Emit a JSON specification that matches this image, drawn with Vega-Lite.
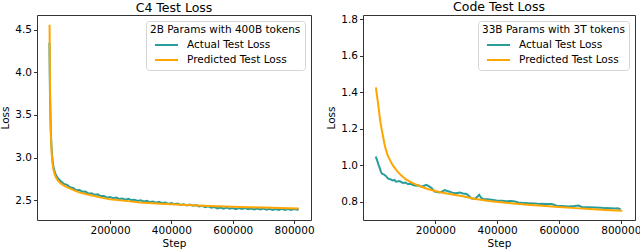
{
  "$schema": "https://vega.github.io/schema/vega-lite/v6.json",
  "padding": {"left": 0, "top": 0, "right": 0, "bottom": 0},
  "config": {
    "font": "DejaVu Sans",
    "view": {"stroke": "#333333", "strokeWidth": 1},
    "axis": {"domain": false, "grid": false, "ticks": true, "tickColor": "#333333", "tickSize": 3.5, "tickWidth": 1, "labelFontSize": 10.5, "labelColor": "#000000", "titleFontSize": 10.5, "titleFontWeight": "normal", "titleColor": "#000000", "labelPadding": 2, "labelFlush": false},
    "title": {"fontSize": 12.5, "fontWeight": "normal", "color": "#000000", "offset": 1},
    "legend": {
      "symbolType": "M-2.1,0H2.1",
      "symbolSize": 121,
      "symbolStrokeWidth": 2,
      "labelFontSize": 10.5,
      "titleFontSize": 10.5,
      "titleFontWeight": "normal",
      "titleColor": "#000000",
      "labelColor": "#000000",
      "padding": 4,
      "strokeColor": "#d5d5d5",
      "fillColor": "rgba(255,255,255,0.85)",
      "cornerRadius": 3,
      "rowPadding": 3,
      "titlePadding": 3,
      "symbolOffset": 10,
      "labelOffset": 14
    },
    "concat": {"spacing": 11}
  },
  "datasets": {
    "c4": [
      {"series": "Actual Test Loss", "step": 2500, "loss": 4.35},
      {"series": "Actual Test Loss", "step": 3000, "loss": 4.15},
      {"series": "Actual Test Loss", "step": 3500, "loss": 3.97},
      {"series": "Actual Test Loss", "step": 4000, "loss": 3.82},
      {"series": "Actual Test Loss", "step": 5000, "loss": 3.62},
      {"series": "Actual Test Loss", "step": 6000, "loss": 3.46},
      {"series": "Actual Test Loss", "step": 7000, "loss": 3.33},
      {"series": "Actual Test Loss", "step": 8000, "loss": 3.23},
      {"series": "Actual Test Loss", "step": 9500, "loss": 3.11},
      {"series": "Actual Test Loss", "step": 11000, "loss": 3.03},
      {"series": "Actual Test Loss", "step": 13000, "loss": 2.955},
      {"series": "Actual Test Loss", "step": 15500, "loss": 2.895},
      {"series": "Actual Test Loss", "step": 19000, "loss": 2.84},
      {"series": "Actual Test Loss", "step": 23000, "loss": 2.8},
      {"series": "Actual Test Loss", "step": 28000, "loss": 2.765},
      {"series": "Actual Test Loss", "step": 34000, "loss": 2.74},
      {"series": "Actual Test Loss", "step": 40000, "loss": 2.721},
      {"series": "Actual Test Loss", "step": 50000, "loss": 2.688},
      {"series": "Actual Test Loss", "step": 60000, "loss": 2.678},
      {"series": "Actual Test Loss", "step": 70000, "loss": 2.649},
      {"series": "Actual Test Loss", "step": 80000, "loss": 2.641},
      {"series": "Actual Test Loss", "step": 90000, "loss": 2.615},
      {"series": "Actual Test Loss", "step": 100000, "loss": 2.617},
      {"series": "Actual Test Loss", "step": 110000, "loss": 2.598},
      {"series": "Actual Test Loss", "step": 120000, "loss": 2.599},
      {"series": "Actual Test Loss", "step": 130000, "loss": 2.575},
      {"series": "Actual Test Loss", "step": 140000, "loss": 2.578},
      {"series": "Actual Test Loss", "step": 150000, "loss": 2.561},
      {"series": "Actual Test Loss", "step": 160000, "loss": 2.566},
      {"series": "Actual Test Loss", "step": 170000, "loss": 2.546},
      {"series": "Actual Test Loss", "step": 180000, "loss": 2.547},
      {"series": "Actual Test Loss", "step": 190000, "loss": 2.527},
      {"series": "Actual Test Loss", "step": 200000, "loss": 2.535},
      {"series": "Actual Test Loss", "step": 210000, "loss": 2.522},
      {"series": "Actual Test Loss", "step": 220000, "loss": 2.529},
      {"series": "Actual Test Loss", "step": 230000, "loss": 2.512},
      {"series": "Actual Test Loss", "step": 240000, "loss": 2.517},
      {"series": "Actual Test Loss", "step": 250000, "loss": 2.503},
      {"series": "Actual Test Loss", "step": 260000, "loss": 2.514},
      {"series": "Actual Test Loss", "step": 270000, "loss": 2.499},
      {"series": "Actual Test Loss", "step": 280000, "loss": 2.504},
      {"series": "Actual Test Loss", "step": 290000, "loss": 2.488},
      {"series": "Actual Test Loss", "step": 300000, "loss": 2.498},
      {"series": "Actual Test Loss", "step": 310000, "loss": 2.484},
      {"series": "Actual Test Loss", "step": 320000, "loss": 2.492},
      {"series": "Actual Test Loss", "step": 330000, "loss": 2.476},
      {"series": "Actual Test Loss", "step": 340000, "loss": 2.482},
      {"series": "Actual Test Loss", "step": 350000, "loss": 2.468},
      {"series": "Actual Test Loss", "step": 360000, "loss": 2.479},
      {"series": "Actual Test Loss", "step": 370000, "loss": 2.464},
      {"series": "Actual Test Loss", "step": 380000, "loss": 2.47},
      {"series": "Actual Test Loss", "step": 390000, "loss": 2.453},
      {"series": "Actual Test Loss", "step": 400000, "loss": 2.464},
      {"series": "Actual Test Loss", "step": 410000, "loss": 2.451},
      {"series": "Actual Test Loss", "step": 420000, "loss": 2.459},
      {"series": "Actual Test Loss", "step": 430000, "loss": 2.443},
      {"series": "Actual Test Loss", "step": 440000, "loss": 2.45},
      {"series": "Actual Test Loss", "step": 450000, "loss": 2.436},
      {"series": "Actual Test Loss", "step": 460000, "loss": 2.446},
      {"series": "Actual Test Loss", "step": 470000, "loss": 2.433},
      {"series": "Actual Test Loss", "step": 480000, "loss": 2.441},
      {"series": "Actual Test Loss", "step": 490000, "loss": 2.424},
      {"series": "Actual Test Loss", "step": 500000, "loss": 2.432},
      {"series": "Actual Test Loss", "step": 510000, "loss": 2.415},
      {"series": "Actual Test Loss", "step": 520000, "loss": 2.427},
      {"series": "Actual Test Loss", "step": 530000, "loss": 2.411},
      {"series": "Actual Test Loss", "step": 540000, "loss": 2.418},
      {"series": "Actual Test Loss", "step": 550000, "loss": 2.401},
      {"series": "Actual Test Loss", "step": 560000, "loss": 2.412},
      {"series": "Actual Test Loss", "step": 570000, "loss": 2.399},
      {"series": "Actual Test Loss", "step": 580000, "loss": 2.411},
      {"series": "Actual Test Loss", "step": 590000, "loss": 2.398},
      {"series": "Actual Test Loss", "step": 600000, "loss": 2.406},
      {"series": "Actual Test Loss", "step": 610000, "loss": 2.393},
      {"series": "Actual Test Loss", "step": 620000, "loss": 2.406},
      {"series": "Actual Test Loss", "step": 630000, "loss": 2.395},
      {"series": "Actual Test Loss", "step": 640000, "loss": 2.405},
      {"series": "Actual Test Loss", "step": 650000, "loss": 2.391},
      {"series": "Actual Test Loss", "step": 660000, "loss": 2.401},
      {"series": "Actual Test Loss", "step": 670000, "loss": 2.388},
      {"series": "Actual Test Loss", "step": 680000, "loss": 2.4},
      {"series": "Actual Test Loss", "step": 690000, "loss": 2.388},
      {"series": "Actual Test Loss", "step": 700000, "loss": 2.4},
      {"series": "Actual Test Loss", "step": 710000, "loss": 2.387},
      {"series": "Actual Test Loss", "step": 720000, "loss": 2.397},
      {"series": "Actual Test Loss", "step": 730000, "loss": 2.383},
      {"series": "Actual Test Loss", "step": 740000, "loss": 2.395},
      {"series": "Actual Test Loss", "step": 750000, "loss": 2.383},
      {"series": "Actual Test Loss", "step": 760000, "loss": 2.396},
      {"series": "Actual Test Loss", "step": 770000, "loss": 2.383},
      {"series": "Actual Test Loss", "step": 780000, "loss": 2.394},
      {"series": "Actual Test Loss", "step": 790000, "loss": 2.384},
      {"series": "Actual Test Loss", "step": 800000, "loss": 2.393},
      {"series": "Actual Test Loss", "step": 810000, "loss": 2.385},
      {"series": "Actual Test Loss", "step": 815000, "loss": 2.392},
      {"series": "Predicted Test Loss", "step": 3000, "loss": 4.56},
      {"series": "Predicted Test Loss", "step": 3500, "loss": 4.3},
      {"series": "Predicted Test Loss", "step": 4000, "loss": 4.05},
      {"series": "Predicted Test Loss", "step": 4500, "loss": 3.85},
      {"series": "Predicted Test Loss", "step": 5000, "loss": 3.68},
      {"series": "Predicted Test Loss", "step": 6000, "loss": 3.45},
      {"series": "Predicted Test Loss", "step": 7000, "loss": 3.3},
      {"series": "Predicted Test Loss", "step": 8000, "loss": 3.19},
      {"series": "Predicted Test Loss", "step": 9500, "loss": 3.07},
      {"series": "Predicted Test Loss", "step": 11000, "loss": 2.99},
      {"series": "Predicted Test Loss", "step": 13000, "loss": 2.92},
      {"series": "Predicted Test Loss", "step": 15500, "loss": 2.86},
      {"series": "Predicted Test Loss", "step": 19000, "loss": 2.81},
      {"series": "Predicted Test Loss", "step": 23000, "loss": 2.77},
      {"series": "Predicted Test Loss", "step": 28000, "loss": 2.74},
      {"series": "Predicted Test Loss", "step": 35000, "loss": 2.71},
      {"series": "Predicted Test Loss", "step": 45000, "loss": 2.68},
      {"series": "Predicted Test Loss", "step": 57000, "loss": 2.655},
      {"series": "Predicted Test Loss", "step": 70000, "loss": 2.635},
      {"series": "Predicted Test Loss", "step": 85000, "loss": 2.61},
      {"series": "Predicted Test Loss", "step": 100000, "loss": 2.59},
      {"series": "Predicted Test Loss", "step": 120000, "loss": 2.57},
      {"series": "Predicted Test Loss", "step": 145000, "loss": 2.55},
      {"series": "Predicted Test Loss", "step": 175000, "loss": 2.525},
      {"series": "Predicted Test Loss", "step": 200000, "loss": 2.51},
      {"series": "Predicted Test Loss", "step": 250000, "loss": 2.49},
      {"series": "Predicted Test Loss", "step": 300000, "loss": 2.472},
      {"series": "Predicted Test Loss", "step": 350000, "loss": 2.46},
      {"series": "Predicted Test Loss", "step": 400000, "loss": 2.449},
      {"series": "Predicted Test Loss", "step": 450000, "loss": 2.44},
      {"series": "Predicted Test Loss", "step": 500000, "loss": 2.433},
      {"series": "Predicted Test Loss", "step": 550000, "loss": 2.427},
      {"series": "Predicted Test Loss", "step": 600000, "loss": 2.421},
      {"series": "Predicted Test Loss", "step": 650000, "loss": 2.416},
      {"series": "Predicted Test Loss", "step": 700000, "loss": 2.411},
      {"series": "Predicted Test Loss", "step": 750000, "loss": 2.406},
      {"series": "Predicted Test Loss", "step": 815000, "loss": 2.401}
    ],
    "code": [
      {"series": "Actual Test Loss", "step": 7000, "loss": 1.047},
      {"series": "Actual Test Loss", "step": 11000, "loss": 1.03},
      {"series": "Actual Test Loss", "step": 15600, "loss": 1.005},
      {"series": "Actual Test Loss", "step": 20000, "loss": 0.985},
      {"series": "Actual Test Loss", "step": 24400, "loss": 0.962},
      {"series": "Actual Test Loss", "step": 28000, "loss": 0.952},
      {"series": "Actual Test Loss", "step": 33000, "loss": 0.95},
      {"series": "Actual Test Loss", "step": 40600, "loss": 0.94},
      {"series": "Actual Test Loss", "step": 48200, "loss": 0.925},
      {"series": "Actual Test Loss", "step": 55000, "loss": 0.923},
      {"series": "Actual Test Loss", "step": 62400, "loss": 0.916},
      {"series": "Actual Test Loss", "step": 68000, "loss": 0.919},
      {"series": "Actual Test Loss", "step": 73200, "loss": 0.91},
      {"series": "Actual Test Loss", "step": 84000, "loss": 0.913},
      {"series": "Actual Test Loss", "step": 95000, "loss": 0.903},
      {"series": "Actual Test Loss", "step": 103000, "loss": 0.905},
      {"series": "Actual Test Loss", "step": 111200, "loss": 0.897},
      {"series": "Actual Test Loss", "step": 120000, "loss": 0.899},
      {"series": "Actual Test Loss", "step": 127500, "loss": 0.891},
      {"series": "Actual Test Loss", "step": 138200, "loss": 0.888},
      {"series": "Actual Test Loss", "step": 146000, "loss": 0.89},
      {"series": "Actual Test Loss", "step": 154500, "loss": 0.882},
      {"series": "Actual Test Loss", "step": 162000, "loss": 0.886},
      {"series": "Actual Test Loss", "step": 170700, "loss": 0.892},
      {"series": "Actual Test Loss", "step": 180000, "loss": 0.884},
      {"series": "Actual Test Loss", "step": 187000, "loss": 0.876},
      {"series": "Actual Test Loss", "step": 197700, "loss": 0.856},
      {"series": "Actual Test Loss", "step": 206000, "loss": 0.853},
      {"series": "Actual Test Loss", "step": 214000, "loss": 0.851},
      {"series": "Actual Test Loss", "step": 222000, "loss": 0.856},
      {"series": "Actual Test Loss", "step": 230000, "loss": 0.864},
      {"series": "Actual Test Loss", "step": 238000, "loss": 0.859},
      {"series": "Actual Test Loss", "step": 246500, "loss": 0.855},
      {"series": "Actual Test Loss", "step": 255000, "loss": 0.85},
      {"series": "Actual Test Loss", "step": 262700, "loss": 0.846},
      {"series": "Actual Test Loss", "step": 271000, "loss": 0.848},
      {"series": "Actual Test Loss", "step": 279000, "loss": 0.85},
      {"series": "Actual Test Loss", "step": 290000, "loss": 0.845},
      {"series": "Actual Test Loss", "step": 300800, "loss": 0.842},
      {"series": "Actual Test Loss", "step": 310000, "loss": 0.83},
      {"series": "Actual Test Loss", "step": 317000, "loss": 0.818},
      {"series": "Actual Test Loss", "step": 327800, "loss": 0.816},
      {"series": "Actual Test Loss", "step": 335000, "loss": 0.826},
      {"series": "Actual Test Loss", "step": 342000, "loss": 0.838},
      {"series": "Actual Test Loss", "step": 348000, "loss": 0.822},
      {"series": "Actual Test Loss", "step": 355000, "loss": 0.815},
      {"series": "Actual Test Loss", "step": 368000, "loss": 0.813},
      {"series": "Actual Test Loss", "step": 382000, "loss": 0.811},
      {"series": "Actual Test Loss", "step": 398000, "loss": 0.807},
      {"series": "Actual Test Loss", "step": 414600, "loss": 0.805},
      {"series": "Actual Test Loss", "step": 430000, "loss": 0.803},
      {"series": "Actual Test Loss", "step": 445000, "loss": 0.804},
      {"series": "Actual Test Loss", "step": 457800, "loss": 0.801},
      {"series": "Actual Test Loss", "step": 468000, "loss": 0.796},
      {"series": "Actual Test Loss", "step": 479700, "loss": 0.794},
      {"series": "Actual Test Loss", "step": 500000, "loss": 0.792},
      {"series": "Actual Test Loss", "step": 523000, "loss": 0.79},
      {"series": "Actual Test Loss", "step": 535000, "loss": 0.788},
      {"series": "Actual Test Loss", "step": 544700, "loss": 0.789},
      {"series": "Actual Test Loss", "step": 560000, "loss": 0.787},
      {"series": "Actual Test Loss", "step": 577200, "loss": 0.788},
      {"series": "Actual Test Loss", "step": 585000, "loss": 0.782},
      {"series": "Actual Test Loss", "step": 593500, "loss": 0.778},
      {"series": "Actual Test Loss", "step": 610000, "loss": 0.777},
      {"series": "Actual Test Loss", "step": 631500, "loss": 0.774},
      {"series": "Actual Test Loss", "step": 650000, "loss": 0.776},
      {"series": "Actual Test Loss", "step": 664000, "loss": 0.779},
      {"series": "Actual Test Loss", "step": 674800, "loss": 0.77},
      {"series": "Actual Test Loss", "step": 695000, "loss": 0.77},
      {"series": "Actual Test Loss", "step": 718000, "loss": 0.769},
      {"series": "Actual Test Loss", "step": 735000, "loss": 0.767},
      {"series": "Actual Test Loss", "step": 750600, "loss": 0.765},
      {"series": "Actual Test Loss", "step": 765000, "loss": 0.764},
      {"series": "Actual Test Loss", "step": 783000, "loss": 0.763},
      {"series": "Actual Test Loss", "step": 790000, "loss": 0.764},
      {"series": "Actual Test Loss", "step": 799400, "loss": 0.759},
      {"series": "Predicted Test Loss", "step": 8000, "loss": 1.426},
      {"series": "Predicted Test Loss", "step": 10000, "loss": 1.395},
      {"series": "Predicted Test Loss", "step": 13000, "loss": 1.36},
      {"series": "Predicted Test Loss", "step": 16000, "loss": 1.32},
      {"series": "Predicted Test Loss", "step": 19000, "loss": 1.28},
      {"series": "Predicted Test Loss", "step": 22000, "loss": 1.24},
      {"series": "Predicted Test Loss", "step": 26000, "loss": 1.2},
      {"series": "Predicted Test Loss", "step": 30000, "loss": 1.165},
      {"series": "Predicted Test Loss", "step": 35000, "loss": 1.12},
      {"series": "Predicted Test Loss", "step": 40000, "loss": 1.085},
      {"series": "Predicted Test Loss", "step": 46000, "loss": 1.053},
      {"series": "Predicted Test Loss", "step": 54000, "loss": 1.025},
      {"series": "Predicted Test Loss", "step": 62000, "loss": 1.0},
      {"series": "Predicted Test Loss", "step": 75000, "loss": 0.97},
      {"series": "Predicted Test Loss", "step": 90000, "loss": 0.943},
      {"series": "Predicted Test Loss", "step": 105000, "loss": 0.922},
      {"series": "Predicted Test Loss", "step": 122000, "loss": 0.906},
      {"series": "Predicted Test Loss", "step": 140000, "loss": 0.892},
      {"series": "Predicted Test Loss", "step": 155000, "loss": 0.882},
      {"series": "Predicted Test Loss", "step": 175000, "loss": 0.87},
      {"series": "Predicted Test Loss", "step": 200000, "loss": 0.859},
      {"series": "Predicted Test Loss", "step": 220000, "loss": 0.851},
      {"series": "Predicted Test Loss", "step": 250000, "loss": 0.841},
      {"series": "Predicted Test Loss", "step": 285000, "loss": 0.831},
      {"series": "Predicted Test Loss", "step": 330000, "loss": 0.815},
      {"series": "Predicted Test Loss", "step": 380000, "loss": 0.803},
      {"series": "Predicted Test Loss", "step": 436000, "loss": 0.793},
      {"series": "Predicted Test Loss", "step": 490000, "loss": 0.785},
      {"series": "Predicted Test Loss", "step": 545000, "loss": 0.778},
      {"series": "Predicted Test Loss", "step": 600000, "loss": 0.771},
      {"series": "Predicted Test Loss", "step": 653000, "loss": 0.765},
      {"series": "Predicted Test Loss", "step": 700000, "loss": 0.76},
      {"series": "Predicted Test Loss", "step": 750000, "loss": 0.755},
      {"series": "Predicted Test Loss", "step": 805000, "loss": 0.751}
    ]
  },
  "hconcat": [
    {
      "width": 274,
      "height": 205,
      "title": "C4 Test Loss",
      "data": {"name": "c4"},
      "mark": {"type": "line", "strokeWidth": 2, "clip": true},
      "encoding": {
        "x": {"field": "step", "type": "quantitative", "scale": {"domain": [-38000, 855000], "nice": false, "zero": false}, "axis": {"values": [200000, 400000, 600000, 800000], "format": "d", "title": "Step", "titlePadding": 2}},
        "y": {"field": "loss", "type": "quantitative", "scale": {"domain": [2.265, 4.676], "nice": false, "zero": false}, "axis": {"values": [2.5, 3, 3.5, 4, 4.5], "format": ".1f", "title": "Loss", "titlePadding": 4}},
        "color": {"field": "series", "type": "nominal", "scale": {"domain": ["Actual Test Loss", "Predicted Test Loss"], "range": ["#2a9d9a", "#ffa500"]}, "legend": {"title": "2B Params with 400B tokens", "orient": "top-right", "offset": 6}}
      }
    },
    {
      "width": 272,
      "height": 205,
      "title": "Code Test Loss",
      "data": {"name": "code"},
      "mark": {"type": "line", "strokeWidth": 2, "clip": true},
      "encoding": {
        "x": {"field": "step", "type": "quantitative", "scale": {"domain": [-34000, 846000], "nice": false, "zero": false}, "axis": {"values": [200000, 400000, 600000, 800000], "format": "d", "title": "Step", "titlePadding": 2}},
        "y": {"field": "loss", "type": "quantitative", "scale": {"domain": [0.7, 1.822], "nice": false, "zero": false}, "axis": {"values": [0.8, 1.0, 1.2, 1.4, 1.6, 1.8], "format": ".1f", "title": "Loss", "titlePadding": 4}},
        "color": {"field": "series", "type": "nominal", "scale": {"domain": ["Actual Test Loss", "Predicted Test Loss"], "range": ["#2a9d9a", "#ffa500"]}, "legend": {"title": "33B Params with 3T tokens", "orient": "top-right", "offset": 6}}
      }
    }
  ],
  "resolve": {"scale": {"color": "independent"}, "legend": {"color": "independent"}}
}
